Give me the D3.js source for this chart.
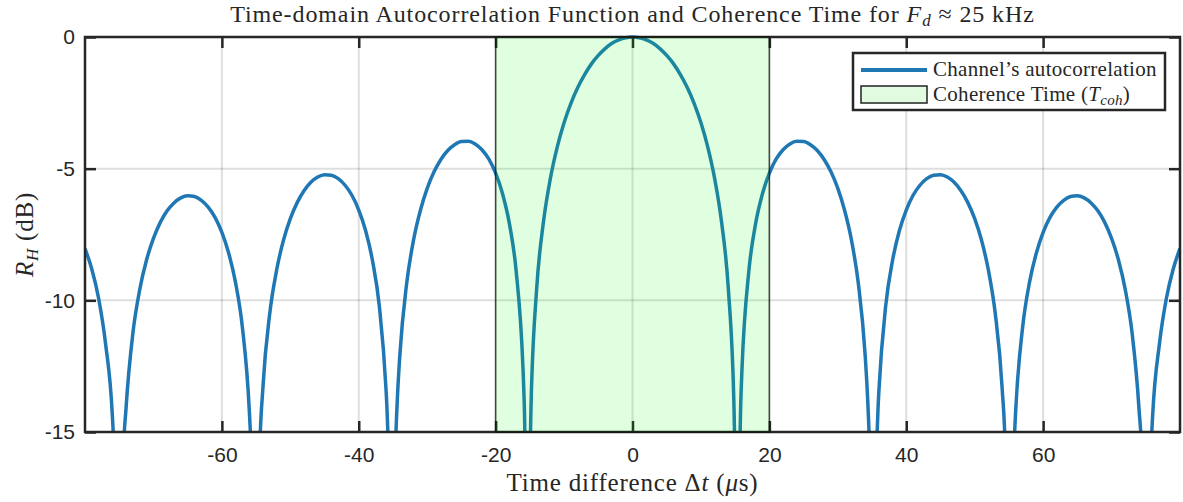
<!DOCTYPE html>
<html>
<head>
<meta charset="utf-8">
<script src="https://cdn.jsdelivr.net/npm/d3@7"></script>
<style>
  body { margin: 0; background: #fff; }
  text { fill: #262626; }
</style>
</head>
<body>
<svg id="chart"></svg>
<script>
// Time lag (microseconds) and autocorrelation (dB).
// Extra samples sit close to each null so the dips cross -15 dB in the right place.
var timeUs = [
  -80, -79, -78, -77, -76, -75.67, -75, -74.47, -74, -73, -72, -71, -70,
  -69, -68, -67, -66, -65, -64, -63, -62, -61, -60, -59, -58, -57, -56,
  -55.69, -55, -54.49, -54, -53, -52, -51, -50, -49, -48, -47, -46, -45,
  -44, -43, -42, -41, -40, -39, -38, -37, -36, -35.89, -35.64, -35, -34.64,
  -34.39, -34, -33, -32, -31, -30, -29, -28, -27, -26, -25, -24, -23, -22,
  -21, -20, -19, -18, -17, -16, -15.81, -15.56, -15, -14.81, -14, -13, -12,
  -11, -10, -9, -8, -7, -6, -5, -4, -3, -2, -1, 0,
  1, 2, 3, 4, 5, 6, 7, 8, 9, 10, 11, 12, 13, 14, 14.81, 15, 15.56, 15.81,
  16, 17, 18, 19, 20, 21, 22, 23, 24, 25, 26, 27, 28, 29, 30, 31, 32, 33,
  34, 34.39, 34.64, 35, 35.64, 35.89, 36, 37, 38, 39, 40, 41, 42, 43, 44,
  45, 46, 47, 48, 49, 50, 51, 52, 53, 54, 54.49, 55, 55.69, 56, 57, 58, 59,
  60, 61, 62, 63, 64, 65, 66, 67, 68, 69, 70, 71, 72, 73, 74, 74.47, 75,
  75.67, 76, 77, 78, 79, 80
];
var rhDb = [
  -8.03, -8.82, -9.94, -11.64, -14.39, -16.30, -25.80, -16.27, -14.08, -11.24, -9.59, -8.46, -7.65,
  -7.04, -6.60, -6.30, -6.11, -6.03, -6.06, -6.20, -6.46, -6.85, -7.42, -8.21, -9.33, -11.03, -14.15,
  -15.94, -24.10, -15.90, -13.30, -10.49, -8.85, -7.72, -6.90, -6.29, -5.84, -5.52, -5.32, -5.23,
  -5.25, -5.38, -5.63, -6.01, -6.57, -7.35, -8.48, -10.20, -13.45, -14.02, -15.76, -21.19, -15.70,
  -13.92, -12.10, -9.36, -7.72, -6.59, -5.75, -5.12, -4.65, -4.31, -4.09, -3.97, -3.96, -4.06, -4.28,
  -4.63, -5.17, -5.94, -7.07, -8.89, -12.60, -13.97, -16.94, -15.93, -13.83, -9.55, -7.00, -5.37,
  -4.18, -3.26, -2.52, -1.92, -1.43, -1.02, -0.70, -0.44, -0.24, -0.11, -0.03, 0,
  -0.03, -0.11, -0.24, -0.44, -0.70, -1.02, -1.43, -1.92, -2.52, -3.26, -4.18, -5.37, -7.00, -9.55, -13.83, -15.93, -16.94, -13.97,
  -12.60, -8.89, -7.07, -5.94, -5.17, -4.63, -4.28, -4.06, -3.96, -3.97, -4.09, -4.31, -4.65, -5.12, -5.75, -6.59, -7.72, -9.36,
  -12.10, -13.92, -15.70, -21.19, -15.76, -14.02, -13.45, -10.20, -8.48, -7.35, -6.57, -6.01, -5.63, -5.38, -5.25,
  -5.23, -5.32, -5.52, -5.84, -6.29, -6.90, -7.72, -8.85, -10.49, -13.30, -15.90, -24.10, -15.94, -14.15, -11.03, -9.33, -8.21,
  -7.42, -6.85, -6.46, -6.20, -6.06, -6.03, -6.11, -6.30, -6.60, -7.04, -7.65, -8.46, -9.59, -11.24, -14.08, -16.27, -25.80,
  -16.30, -14.39, -11.64, -9.94, -8.82, -8.03
];

// Coherence time window (microseconds)
var cohWindow = [-20, 20];

// Axis ticks
var xTicks = [-60, -40, -20, 0, 20, 40, 60];
var yTicks = [0, -5, -10, -15];
var xDomain = [-80, 80];
var yDomain = [-15, 0];

var width = 1183, height = 502;
var plotLeft = 85, plotRight = 1180, plotTop = 37, plotBottom = 432;
var axisColor = '#262626';
var lineColor = '#1f77b4';
var serif = '"Liberation Serif", "DejaVu Serif", serif';
var sans = '"Liberation Sans", Arial, sans-serif';

var svg = d3.select('#chart')
  .attr('width', width)
  .attr('height', height);

var x = d3.scaleLinear().domain(xDomain).range([plotLeft, plotRight]);
var y = d3.scaleLinear().domain(yDomain).range([plotBottom, plotTop]);

// Clip the curve to the plot box (a little slack at the top for the peak)
svg.append('defs').append('clipPath')
  .attr('id', 'plotClip')
  .append('rect')
  .attr('x', plotLeft)
  .attr('y', plotTop - 3)
  .attr('width', plotRight - plotLeft)
  .attr('height', plotBottom - plotTop + 3);

// Grid lines
var grid = svg.append('g').attr('class', 'grid');
grid.selectAll('.gx')
  .data(xTicks)
  .enter()
  .append('line')
  .attr('x1', function(d) { return x(d); })
  .attr('x2', function(d) { return x(d); })
  .attr('y1', plotTop)
  .attr('y2', plotBottom);
grid.selectAll('.gy')
  .data(yTicks)
  .enter()
  .append('line')
  .attr('x1', plotLeft)
  .attr('x2', plotRight)
  .attr('y1', function(d) { return y(d); })
  .attr('y2', function(d) { return y(d); });
grid.selectAll('line')
  .style('stroke', '#000')
  .style('stroke-opacity', 0.13)
  .style('stroke-width', 2);

// The autocorrelation curve
var points = timeUs.map(function(t, i) { return [t, rhDb[i]]; });
var line = d3.line()
  .x(function(d) { return x(d[0]); })
  .y(function(d) { return y(d[1]); })
  .curve(d3.curveMonotoneX);

svg.append('path')
  .datum(points)
  .attr('clip-path', 'url(#plotClip)')
  .attr('d', line)
  .style('fill', 'none')
  .style('stroke', lineColor)
  .style('stroke-width', 3.5)
  .style('stroke-linejoin', 'round');

// Axes: inward ticks on all four sides, plain hyphen minus in labels
function plainNum(d) { return String(d); }
function styleAxis(g) {
  g.select('.domain').remove();
  g.selectAll('.tick line')
    .style('stroke', axisColor)
    .style('stroke-width', 2.5);
  g.selectAll('.tick text')
    .style('font-family', sans)
    .style('font-size', '21px')
    .style('fill', axisColor);
}

svg.append('g')
  .attr('transform', 'translate(0,' + plotBottom + ')')
  .call(d3.axisBottom(x).tickValues(xTicks).tickSize(-11).tickPadding(15).tickFormat(plainNum))
  .call(styleAxis);
svg.append('g')
  .attr('transform', 'translate(0,' + plotTop + ')')
  .call(d3.axisTop(x).tickValues(xTicks).tickSize(-11).tickFormat(''))
  .call(styleAxis);
svg.append('g')
  .attr('transform', 'translate(' + plotLeft + ',0)')
  .call(d3.axisLeft(y).tickValues(yTicks).tickSize(-11).tickPadding(10).tickFormat(plainNum))
  .call(styleAxis);
svg.append('g')
  .attr('transform', 'translate(' + plotRight + ',0)')
  .call(d3.axisRight(y).tickValues(yTicks).tickSize(-11).tickFormat(''))
  .call(styleAxis);

// Box
svg.append('rect')
  .attr('x', plotLeft)
  .attr('y', plotTop)
  .attr('width', plotRight - plotLeft)
  .attr('height', plotBottom - plotTop)
  .style('fill', 'none')
  .style('stroke', axisColor)
  .style('stroke-width', 2.5);

// Coherence time patch, semi-transparent and on top like the original
svg.append('rect')
  .attr('x', x(cohWindow[0]))
  .attr('y', plotTop)
  .attr('width', x(cohWindow[1]) - x(cohWindow[0]))
  .attr('height', plotBottom - plotTop)
  .style('fill', '#00ff00')
  .style('fill-opacity', 0.12)
  .style('stroke', '#111')
  .style('stroke-opacity', 0.75)
  .style('stroke-width', 1.5);

// Title
var title = svg.append('text')
  .attr('x', (plotLeft + plotRight) / 2)
  .attr('y', 22)
  .attr('text-anchor', 'middle')
  .style('font-family', serif)
  .style('font-size', '24px')
  .style('letter-spacing', '0.9px');
title.append('tspan').text('Time-domain Autocorrelation Function and Coherence Time for ');
title.append('tspan').style('font-style', 'italic').text('F');
title.append('tspan').style('font-style', 'italic').style('font-size', '17px')
  .attr('dy', 4).text('d');
title.append('tspan').attr('dy', -4).text(' \u2248 25 kHz');

// X label
var xl = svg.append('text')
  .attr('x', (plotLeft + plotRight) / 2)
  .attr('y', 491)
  .attr('text-anchor', 'middle')
  .style('font-family', serif)
  .style('font-size', '25px')
  .style('letter-spacing', '0.8px');
xl.append('tspan').text('Time difference \u0394');
xl.append('tspan').style('font-style', 'italic').text('t');
xl.append('tspan').text(' (');
xl.append('tspan').style('font-style', 'italic').text('\u03bc');
xl.append('tspan').text('s)');

// Y label
var yl = svg.append('text')
  .attr('transform', 'translate(33,' + (plotTop + plotBottom) / 2 + ') rotate(-90)')
  .attr('text-anchor', 'middle')
  .style('font-family', serif)
  .style('font-size', '25px')
  .style('letter-spacing', '0.8px');
yl.append('tspan').style('font-style', 'italic').text('R');
yl.append('tspan').style('font-style', 'italic').style('font-size', '17px')
  .attr('dy', 5).text('H');
yl.append('tspan').attr('dy', -5).text(' (dB)');

// Legend
var legend = svg.append('g').attr('class', 'legend');
legend.append('rect')
  .attr('x', 853)
  .attr('y', 53)
  .attr('width', 312)
  .attr('height', 57)
  .style('fill', '#fff')
  .style('stroke', axisColor)
  .style('stroke-width', 2.5);
legend.append('line')
  .attr('x1', 861)
  .attr('x2', 927)
  .attr('y1', 70)
  .attr('y2', 70)
  .style('stroke', lineColor)
  .style('stroke-width', 4);
legend.append('rect')
  .attr('x', 861)
  .attr('y', 86)
  .attr('width', 66)
  .attr('height', 17)
  .style('fill', '#e0fbe0')
  .style('stroke', '#222')
  .style('stroke-width', 1.5);
legend.append('text')
  .attr('x', 933)
  .attr('y', 76)
  .style('font-family', serif)
  .style('font-size', '21px')
  .style('letter-spacing', '0.3px')
  .text('Channel\u2019s autocorrelation');
var lt = legend.append('text')
  .attr('x', 933)
  .attr('y', 101)
  .style('font-family', serif)
  .style('font-size', '21px')
  .style('letter-spacing', '0.3px');
lt.append('tspan').text('Coherence Time (');
lt.append('tspan').style('font-style', 'italic').text('T');
lt.append('tspan').style('font-style', 'italic').style('font-size', '15px')
  .attr('dy', 4).text('coh');
lt.append('tspan').attr('dy', -4).text(')');
</script>
</body>
</html>
